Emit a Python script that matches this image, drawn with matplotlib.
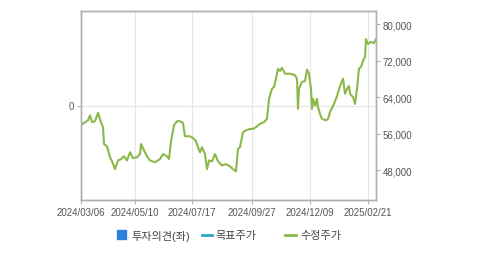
import matplotlib.pyplot as plt
from matplotlib.lines import Line2D
from matplotlib.patches import Rectangle
from matplotlib.ticker import FuncFormatter

plt.rcParams['font.family'] = ['Liberation Sans', 'Noto Sans CJK KR', 'DejaVu Sans']

# x = trading-day position, price = adjusted close (수정주가)
day = [0, 3, 7, 9, 11, 14, 17, 20, 22, 23, 26, 29, 31, 34, 37, 40, 43, 46, 49, 52,
       56, 59, 60, 63, 66, 69, 74, 79, 82, 86, 88, 90, 93, 96, 99, 102, 104, 109, 112, 115,
       117, 119, 121, 124, 126, 128, 131, 134, 137, 141, 145, 149, 152, 155, 157, 159, 162, 165, 169, 172,
       175, 179, 183, 186, 188, 191, 193, 195, 197, 199, 201, 204, 209, 214, 216, 217, 218, 221, 224, 226,
       228, 230, 231, 232, 234, 236, 237, 239, 241, 245, 247, 249, 253, 256, 259, 262, 264, 266, 268, 269,
       272, 274, 276, 278, 280, 282, 284, 285, 287, 290, 293, 295]
price = [57800, 58300, 58900, 60000, 58500, 58700, 60500, 58500, 57400, 53700, 53200, 50800, 49900, 48200, 50100, 50400, 51000, 50100, 51900, 50600,
         50800, 51500, 53700, 52300, 51000, 50100, 49700, 50400, 51500, 51000, 50400, 54300, 57800, 58700, 58700, 58300, 55400, 55400, 55000, 54300,
         53000, 51900, 53000, 51500, 48200, 50100, 49900, 51500, 49900, 49000, 49300, 48800, 48200, 47700, 52600, 53000, 56300, 56700, 57000, 57000,
         57400, 58100, 58500, 59200, 63600, 65800, 66200, 68000, 70200, 69700, 70400, 69100, 69100, 68800, 68000, 61400, 65800, 67300, 67500, 70000,
         69100, 65800, 61400, 63600, 62100, 63600, 61800, 60300, 59200, 58900, 59200, 60700, 62500, 64200, 66400, 68000, 64700, 65800, 66400, 64700,
         64000, 62500, 65800, 70200, 70600, 71900, 72800, 76700, 75600, 76100, 75800, 76700]

tick_pos = [0, 54, 111, 171, 229, 287]
tick_labels = ['2024/03/06', '2024/05/10', '2024/07/17', '2024/09/27', '2024/12/09', '2025/02/21']
price_ticks = [48000, 56000, 64000, 72000, 80000]

frame = '#b0b0b0'
txt = '#555555'
green = '#8cb84a'

fig = plt.figure(figsize=(4.79, 2.55), dpi=100)
ax = fig.add_axes([81 / 479, 1 - 201 / 255, 295 / 479, 189 / 255])
ax.set_xlim(0, 295)
ax.set_ylim(-1, 1)
ax.set_yticks([0])
ax.set_yticklabels(['0'])
ax.set_xticks(tick_pos)
ax.set_xticklabels(tick_labels)
ax.grid(True, color='#e6e6e6', linewidth=0.8)
ax.tick_params(colors=frame, labelcolor=txt, labelsize=7, length=3, width=0.8, pad=2)
for s in ax.spines.values():
    s.set_color(frame)
    s.set_linewidth(1)

ax2 = ax.twinx()
ax2.plot(day, price, color=green, linewidth=1.5)
ax2.set_ylim(41430, 82850)
ax2.set_yticks(price_ticks)
ax2.yaxis.set_major_formatter(FuncFormatter(lambda v, p: f'{int(v):,}'))
ax2.tick_params(colors=frame, labelcolor=txt, labelsize=7, length=3, width=0.8, pad=2)
for s in ax2.spines.values():
    s.set_color(frame)
    s.set_linewidth(1)

# legend
W, H = 479, 255
fig.patches.append(Rectangle((117 / W, 1 - 240 / H), 9 / W, 9 / H, transform=fig.transFigure,
                             color='#2f7fe0', figure=fig))
fig.text(131 / W, 1 - 236 / H, '투자의견(좌)', fontsize=8, color='#444444', va='center')
fig.lines.append(Line2D([202 / W, 212 / W], [1 - 236 / H, 1 - 236 / H], transform=fig.transFigure,
                        color='#2aa8c8', linewidth=2, figure=fig))
fig.text(215 / W, 1 - 236 / H, '목표주가', fontsize=8, color='#444444', va='center')
fig.lines.append(Line2D([285 / W, 296 / W], [1 - 236 / H, 1 - 236 / H], transform=fig.transFigure,
                        color=green, linewidth=2, figure=fig))
fig.text(300 / W, 1 - 236 / H, '수정주가', fontsize=8, color='#444444', va='center')

fig.savefig('out.png', dpi=100)
